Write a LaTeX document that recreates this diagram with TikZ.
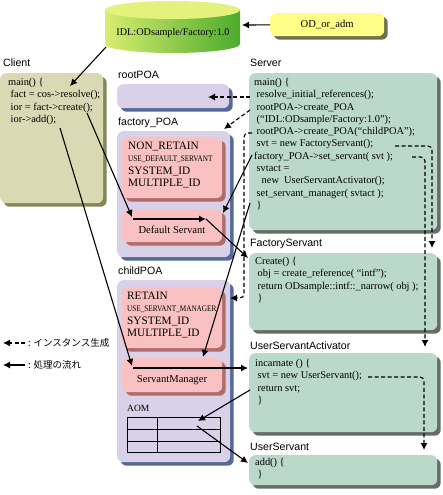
\documentclass[tikz,border=0pt]{standalone}
\usepackage{fontspec}
\setmainfont{Liberation Serif}
\setsansfont{Liberation Sans}
\newfontfamily\jpfont{Noto Sans CJK JP}
\usetikzlibrary{arrows.meta, positioning, calc, shadows}
\definecolor{clientfill}{HTML}{D9D9B3}
\definecolor{clientshade}{HTML}{868657}
\definecolor{poafill}{HTML}{D9D1E7}
\definecolor{poashade}{HTML}{53699A}
\definecolor{pinkfill}{HTML}{F9C1C1}
\definecolor{pinkshade}{HTML}{B06B6B}
\definecolor{tealfill}{HTML}{BAD9CB}
\definecolor{tealshade}{HTML}{656D67}
\definecolor{admfill}{HTML}{FFFF88}
\definecolor{admshade}{HTML}{70704F}
\definecolor{cyltop}{HTML}{E4F17C}
\definecolor{cylleft}{HTML}{D8ED70}
\definecolor{cylright}{HTML}{4CAB2C}
\newcommand{\ind}{\hspace*{2.5pt}}
\newcommand{\slimcaps}[1]{\scalebox{0.85}[1]{\fontsize{8.5}{10}\selectfont #1}}

\begin{document}
\begin{tikzpicture}[x=1pt, y=-1pt,
    title/.style={font=\sffamily\fontsize{10.6}{13}\selectfont, anchor=west,
                  inner sep=0},
    code/.style={font=\fontsize{10.4}{12.3}\selectfont, align=left,
                 anchor=north west, inner sep=0},
    caps/.style={font=\fontsize{11.3}{12.3}\selectfont, align=left,
                 anchor=north west, inner sep=0},
    plain/.style={font=\fontsize{10.6}{12}\selectfont, inner sep=0},
    panel/.style 2 args={fill=#1, rounded corners=6pt, anchor=north west,
                 inner sep=0, drop shadow={shadow xshift=3.5pt,
                 shadow yshift=-3.5pt, fill=#2, opacity=1}},
    flow/.style={-{Latex[length=7pt,width=7pt]}, line width=1.1pt},
    make/.style={flow, dash pattern=on 4pt off 2.5pt},
    keytext/.style={font=\jpfont\fontsize{9.5}{11}\selectfont, anchor=west,
                    inner sep=0}]
  \useasboundingbox (0,0) rectangle (443,495);

  % repository and its administrator
  \shade[left color=cylleft, right color=cylright]
    (105,10) -- (105,44) arc[start angle=180, end angle=360,
    x radius=67.5pt, y radius=9pt] -- (240,10) -- cycle;
  \fill[cyltop] (172.5,10) ellipse[x radius=67.5pt, y radius=9pt];
  \node[font=\fontsize{10.2}{12}\selectfont, inner sep=0] (repos)
    at (173,33) {IDL:ODsample/Factory:1.0};
  \node[panel={admfill}{admshade}, minimum width=114pt, minimum height=23pt,
        plain] (odadm) at (270,13) {OD\_or\_adm};

  % client
  \node[title] (clientlbl) at (3,63) {Client};
  \node[panel={clientfill}{clientshade}, minimum width=103pt,
        minimum height=130pt] (client) at (0,73) {};
  \node[code] (clientcode) at (8,78) {main() \{\\
    \ind fact = cos->resolve();\\
    \ind ior = fact->create();\\
    \ind ior->add();};

  % POAs
  \node[title] (rootlbl) at (118,75) {rootPOA};
  \node[panel={poafill}{poashade}, minimum width=112pt,
        minimum height=24pt] (rootpoa) at (117,84) {};

  \node[title] (factlbl) at (118,123) {factory\_POA};
  \node[panel={poafill}{poashade}, minimum width=113pt,
        minimum height=126pt] (factpoa) at (117,131) {};
  \node[panel={pinkfill}{pinkshade}, minimum width=100pt,
        minimum height=61pt] (nonretain) at (122,137) {};
  \node[caps] (nonretaintxt) at (128,142) {NON\_RETAIN\\
    \slimcaps{USE\_DEFAULT\_SERVANT}\\ SYSTEM\_ID\\ MULTIPLE\_ID};
  \node[panel={pinkfill}{pinkshade}, minimum width=100pt,
        minimum height=33pt] (defsvt) at (122,209) {};
  \node[plain] (defsvttxt) at (172,230) {Default Servant};

  \node[title] (childlbl) at (118,271) {childPOA};
  \node[panel={poafill}{poashade}, minimum width=113pt,
        minimum height=182pt] (childpoa) at (117,280) {};
  \node[panel={pinkfill}{pinkshade}, minimum width=100pt,
        minimum height=61pt] (retain) at (122,287) {};
  \node[caps] (retaintxt) at (127,292) {RETAIN\\
    \slimcaps{USE\_SERVANT\_MANAGER}\\ SYSTEM\_ID\\ MULTIPLE\_ID};
  \node[panel={pinkfill}{pinkshade}, minimum width=100pt,
        minimum height=34pt] (svtmgr) at (122,358) {};
  \node[plain] (svtmgrtxt) at (172,380) {ServantManager};

  \node[font=\fontsize{9.5}{11}\selectfont, anchor=west, inner sep=0]
    (aomlbl) at (127,408) {AOM};
  \node[draw, line width=0.7pt, minimum width=93pt, minimum height=35pt,
        anchor=north west, inner sep=0] (aom) at (127,417) {};
  \draw[line width=0.7pt] (157,417) -- (157,452);
  \foreach \r in {429,441}
    \draw[line width=0.7pt] (127,\r) -- (220,\r);

  % server side
  \node[title] (serverlbl) at (250,63) {Server};
  \node[panel={tealfill}{tealshade}, minimum width=188pt,
        minimum height=157pt] (server) at (249,73) {};
  \node[code] (servercode) at (254,78) {main() \{\\
    \ind resolve\_initial\_references();\\
    \ind rootPOA->create\_POA\\
    \ind (“IDL:ODsample/Factory:1.0”);\\
    \ind rootPOA->create\_POA(“childPOA”);\\
    \ind svt = new FactoryServant();\\
    factory\_POA->set\_servant( svt );\\
    \ind svtact =\\
    \ind\ind\ind new\ \ UserServantActivator();\\
    \ind set\_servant\_manager( svtact );\\
    \ind \}};

  \node[title] (factsvtlbl) at (250,244) {FactoryServant};
  \node[panel={tealfill}{tealshade}, minimum width=188pt,
        minimum height=77pt] (factsvt) at (249,253) {};
  \node[code] (factsvtcode) at (255,257) {Create() \{\\
    \ind obj = create\_reference( “intf”);\\
    \ind return ODsample::intf::\_narrow( obj );\\
    \ind \}};

  \node[title] (usalbl) at (250,346) {UserServantActivator};
  \node[panel={tealfill}{tealshade}, minimum width=188pt,
        minimum height=79pt] (usa) at (249,353) {};
  \node[code] (usacode) at (255,359) {incarnate () \{\\
    \ind svt = new UserServant();\\
    \ind return svt;\\
    \ind \}};

  \node[title] (usersvtlbl) at (250,447) {UserServant};
  \node[panel={tealfill}{tealshade}, minimum width=188pt,
        minimum height=30pt] (usersvt) at (249,455) {};
  \node[code] (usersvtcode) at (255,458) {add() \{\\ \ind \}};

  % legend
  \coordinate (keymakeA) at (25,343);
  \coordinate (keymakeB) at (3,343);
  \coordinate (keyflowA) at (25,365);
  \coordinate (keyflowB) at (3,365);
  \draw[make] (keymakeA) -- (keymakeB);
  \draw[flow] (keyflowA) -- (keyflowB);
  \node[keytext] (keymaketxt) at (28,343) {: インスタンス生成};
  \node[keytext] (keyflowtxt) at (28,365) {: 処理の流れ};

  % end points of connectors
  \coordinate (reposout) at (106,47);
  \coordinate (reposin) at (242,25);
  \coordinate (clresolve) at (70,86);
  \coordinate (clcreate) at (87,113);
  \coordinate (cladd) at (60,128);
  \coordinate (dsin) at (132,217);
  \coordinate (dsA) at (133,219);
  \coordinate (dsB) at (206,219);
  \coordinate (dstop) at (223,213);
  \coordinate (fsin) at (248,258);
  \coordinate (smin) at (132,366);
  \coordinate (smA) at (133,368);
  \coordinate (smtop) at (203,357);
  \coordinate (usain) at (248,368);
  \coordinate (usaout) at (250,390);
  \coordinate (aomin) at (198,421);
  \coordinate (aomout) at (197,426);
  \coordinate (usin) at (248,463);
  \coordinate (svsetsvt) at (252,155);
  \coordinate (svend) at (250,203);
  \coordinate (svinit) at (250,97);
  \coordinate (rootin) at (208,97);
  \coordinate (svcreate) at (250,110);
  \coordinate (factin) at (224,129);
  \coordinate (svchild) at (252,133);
  \coordinate (childin) at (230,298);
  \coordinate (svnewfs) at (395,146);
  \coordinate (fstop) at (432,248);
  \coordinate (svsetusa) at (412,157);
  \coordinate (usatop) at (425,347);
  \coordinate (usanewus) at (368,377);
  \coordinate (ustop) at (424,450);

  % flow of processing
  \draw[flow] (odadm) -- (reposin);
  \draw[flow] (reposout) -- (clresolve);
  \draw[flow] (clcreate) -- (dsin);
  \draw[flow] (dsA) -- (dsB);
  \draw[flow] (dsB) -- (fsin);
  \draw[flow] (svsetsvt) -- (dstop);
  \draw[flow] (cladd) -- (smin);
  \draw[flow] (smA) -- (usain);
  \draw[flow] (svend) -- (smtop);
  \draw[flow] (usaout) -- (aomin);
  \draw[flow] (aomout) -- (usin);

  % instance creation
  \draw[make] (svinit) -- (rootin);
  \draw[make] (svcreate) -- (factin);
  \draw[make, rounded corners=4pt] (svchild) -- ++(-8,0) |- (childin);
  \draw[make, rounded corners=4pt] (svnewfs) -| (fstop);
  \draw[make, rounded corners=4pt] (svsetusa) -| (usatop);
  \draw[make, rounded corners=4pt] (usanewus) -| (ustop);
\end{tikzpicture}
\end{document}
